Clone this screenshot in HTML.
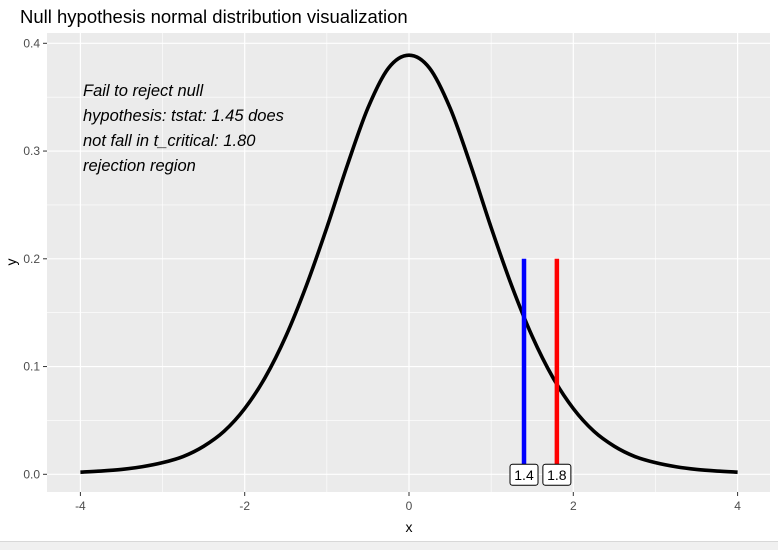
<!DOCTYPE html>
<html><head><meta charset="utf-8"><style>
body{margin:0;background:#fff;}
svg{display:block;font-family:"Liberation Sans",Arial,sans-serif;}
</style></head><body>
<svg id="chart" width="778" height="550" xmlns="http://www.w3.org/2000/svg">
<rect x="0" y="0" width="778" height="550" fill="#fff"/>
<text x="20" y="23" font-size="18.5" fill="#000">Null hypothesis normal distribution visualization</text>
<rect x="47" y="33" width="723" height="459" fill="#ebebeb"/>
<g id="grid"></g>
<g id="axes"></g>
<g id="marks"></g>
<g font-size="16.5" font-style="italic" fill="#000">
<text x="83" y="96">Fail to reject null</text>
<text x="83" y="121">hypothesis: tstat: 1.45 does</text>
<text x="83" y="146">not fall in t_critical: 1.80</text>
<text x="83" y="171">rejection region</text>
</g>
<text x="409" y="532" font-size="14" text-anchor="middle">x</text>
<text x="16" y="262" font-size="14" text-anchor="middle" transform="rotate(-90 16 262)">y</text>
<rect x="0" y="541" width="778" height="9" fill="#f0f0f0"/>
<line x1="0" y1="541.5" x2="778" y2="541.5" stroke="#d8d8d8"/>
</svg>
<script>
const xs=[-4,-3.75,-3.5,-3.25,-3,-2.75,-2.5,-2.25,-2,-1.75,-1.5,-1.25,-1,-0.75,-0.5,-0.25,0,0.25,0.5,0.75,1,1.25,1.5,1.75,2,2.25,2.5,2.75,3,3.25,3.5,3.75,4];
const ys=[0.0020,0.0030,0.0045,0.0070,0.0108,0.0165,0.0260,0.0400,0.0610,0.0900,0.1280,0.1750,0.2290,0.2870,0.3400,0.3770,0.3890,0.3770,0.3400,0.2870,0.2290,0.1750,0.1280,0.0900,0.0610,0.0400,0.0260,0.0165,0.0108,0.0070,0.0045,0.0030,0.0020];
const xTicks=[-4,-2,0,2,4];
const xMinor=[-3,-1,1,3];
const yTicks=[0,0.1,0.2,0.3,0.4];
const yTickLabels=["0.0","0.1","0.2","0.3","0.4"];
const yMinor=[0.05,0.15,0.25,0.35];
const vLineX=[1.4,1.8];
const vLineTop=[0.2,0.2];
const vLineLabels=["1.4","1.8"];
const vLineColors=["#0000ff","#ff0000"];
const NS="http://www.w3.org/2000/svg";
const X=v=>409+v*82.15;
const Y=v=>474.3-v*1077.5;
function mk(t,a,p){const e=document.createElementNS(NS,t);for(const k in a)e.setAttribute(k,a[k]);p.appendChild(e);return e;}
const grid=document.getElementById('grid'),axes=document.getElementById('axes'),marks=document.getElementById('marks');
xMinor.forEach(v=>{const l=mk('line',{x1:X(v),x2:X(v),y1:33,y2:492,stroke:'#fff','stroke-width':0.6},grid);

});
yMinor.forEach(v=>{const l=mk('line',{x1:47,x2:770,y1:Y(v),y2:Y(v),stroke:'#fff','stroke-width':0.6},grid);

});
xTicks.forEach(v=>{const l=mk('line',{x1:X(v),x2:X(v),y1:33,y2:492,stroke:'#fff','stroke-width':1.2},grid);


const t=mk('line',{x1:X(v),x2:X(v),y1:492,y2:496,stroke:'#333','stroke-width':1},axes);


const tx=mk('text',{x:X(v),y:510,'font-size':12,fill:'#4d4d4d','text-anchor':'middle'},axes);tx.textContent=v;

});
yTicks.forEach((v,i)=>{const l=mk('line',{x1:47,x2:770,y1:Y(v),y2:Y(v),stroke:'#fff','stroke-width':1.2},grid);


const t=mk('line',{x1:43,x2:47,y1:Y(v),y2:Y(v),stroke:'#333','stroke-width':1},axes);


const tx=mk('text',{x:40,y:Y(v)+4,'font-size':12,fill:'#4d4d4d','text-anchor':'end'},axes);tx.textContent=yTickLabels[i];

});
const P=xs.map((x,i)=>[X(x),Y(ys[i])]);
let d='M'+P[0][0]+','+P[0][1];
for(let i=0;i<P.length-1;i++){const p0=P[Math.max(0,i-1)],p1=P[i],p2=P[i+1],p3=P[Math.min(P.length-1,i+2)];
d+=' C'+(p1[0]+(p2[0]-p0[0])/6)+','+(p1[1]+(p2[1]-p0[1])/6)+' '+(p2[0]-(p3[0]-p1[0])/6)+','+(p2[1]-(p3[1]-p1[1])/6)+' '+p2[0]+','+p2[1];}
const curve=mk('path',{d:d,fill:'none',stroke:'#000','stroke-width':3.6,'stroke-linejoin':'round'},marks);


vLineX.forEach((v,i)=>{const l=mk('line',{x1:X(v),x2:X(v),y1:Y(vLineTop[i]),y2:Y(0),stroke:vLineColors[i],'stroke-width':4.5},marks);

});
vLineX.forEach((v,i)=>{const g=mk('g',{},marks);


mk('rect',{x:X(v)-14,y:Y(0)-10,width:28,height:21,rx:2.5,fill:'#fff',stroke:'#000','stroke-width':1},g);
const t=mk('text',{x:X(v),y:Y(0)+5.5,'font-size':14,'text-anchor':'middle',fill:'#000'},g);t.textContent=vLineLabels[i];});
</script>
</body></html>
